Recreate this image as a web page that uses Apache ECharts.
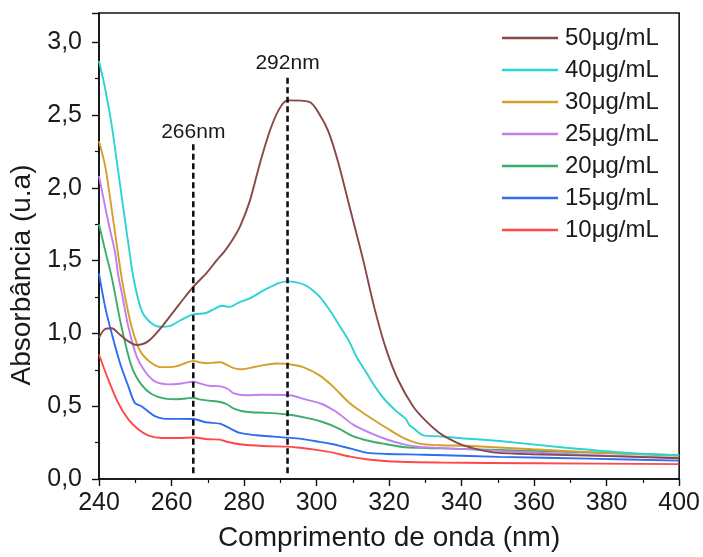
<!DOCTYPE html>
<html>
<head>
<meta charset="utf-8">
<script src="https://cdn.jsdelivr.net/npm/echarts@6/dist/echarts.min.js"></script>
<style>
html,body{margin:0;padding:0;background:#fff;}
#c{width:703px;height:557px;}
</style>
</head>
<body>
<div id="c"></div>
<script>
// Series data: [wavelength (nm), absorbance]
const s50 = [[240,0.97],[241.7,1.03],[243.5,1.035],[245.8,0.99],[248.1,0.945],[250.4,0.92],[253.5,0.945],[257.3,1.045],[260.9,1.16],[263.7,1.25],[266,1.32],[269.5,1.41],[272.4,1.50],[274.5,1.56],[277,1.65],[279,1.74],[281.6,1.91],[284.3,2.16],[287.1,2.39],[289.8,2.545],[292,2.60],[298,2.59],[300.9,2.50],[303.2,2.39],[305.9,2.18],[309.3,1.85],[312.8,1.51],[316,1.17],[319.2,0.89],[322.5,0.68],[326.6,0.50],[330.2,0.397],[333.7,0.32],[337,0.27],[340.3,0.232],[345,0.20],[349.5,0.181],[359.6,0.17],[378,0.159],[400,0.143]];
const s40 = [[240,2.87],[241.7,2.68],[243.5,2.43],[245.3,2.11],[247.2,1.77],[248.3,1.58],[249.5,1.38],[251.7,1.16],[254,1.08],[256.8,1.045],[259.5,1.05],[262.5,1.09],[266,1.13],[269.5,1.14],[272,1.17],[273.8,1.19],[276,1.182],[278.4,1.21],[281.6,1.24],[284,1.275],[286.2,1.306],[289.8,1.347],[292,1.357],[294.4,1.35],[297,1.33],[299,1.295],[300.9,1.25],[303.6,1.16],[306.4,1.05],[309.1,0.94],[311,0.84],[313.5,0.74],[315.5,0.658],[317.4,0.59],[319.2,0.534],[322,0.466],[323.8,0.43],[324.7,0.41],[325.6,0.37],[326.6,0.352],[329.5,0.30],[333.9,0.293],[340,0.28],[350.4,0.261],[368.8,0.215],[387.2,0.177],[400,0.164]];
const s30 = [[240,2.32],[241.7,2.15],[243,1.94],[244.2,1.73],[246.2,1.39],[247.6,1.20],[249,1.045],[251.2,0.886],[254,0.806],[257.3,0.768],[260.9,0.772],[263.7,0.795],[266,0.811],[268,0.80],[270,0.795],[272,0.80],[273.6,0.802],[275.5,0.78],[277.4,0.76],[279.8,0.754],[282,0.765],[284.3,0.777],[288.9,0.793],[292,0.79],[296.3,0.768],[300.9,0.71],[304.5,0.636],[309.1,0.522],[313.7,0.44],[319.2,0.352],[323.8,0.284],[328.4,0.243],[333.9,0.232],[341.3,0.228],[359.6,0.204],[378,0.181],[400,0.159]];
const s25 = [[240,2.08],[242.6,1.76],[244.4,1.56],[245.3,1.40],[246.5,1.25],[248.1,1.045],[250.4,0.84],[252.7,0.738],[255.4,0.67],[259.1,0.65],[262.8,0.656],[266,0.668],[268,0.655],[270.3,0.64],[273.5,0.636],[275.6,0.618],[277,0.59],[280.5,0.575],[285.3,0.579],[292,0.577],[297.2,0.545],[301.5,0.515],[305.5,0.46],[310,0.375],[314.6,0.318],[319.2,0.273],[323.8,0.239],[328.4,0.22],[333.9,0.214],[350.4,0.193],[375,0.165],[400,0.145]];
const s20 = [[240,1.75],[241.7,1.57],[243.5,1.386],[246.2,1.045],[249,0.772],[251.7,0.648],[254.5,0.584],[258.2,0.552],[261.8,0.548],[264,0.553],[266,0.558],[268,0.545],[270.3,0.538],[273.5,0.529],[275.5,0.51],[277.2,0.484],[280.5,0.462],[286.2,0.454],[292,0.443],[297.2,0.42],[301.5,0.393],[306,0.348],[310,0.295],[314.6,0.261],[319.2,0.239],[323.8,0.22],[328.4,0.214],[333.9,0.21],[350.4,0.2],[368.8,0.186],[400,0.164]];
const s15 = [[240,1.41],[241.7,1.18],[243.5,1.0],[245.8,0.795],[248.1,0.636],[249.9,0.522],[251.7,0.50],[253.5,0.466],[255.4,0.431],[258.2,0.413],[261.8,0.413],[266,0.412],[269.4,0.39],[273.3,0.38],[275.3,0.358],[278.6,0.318],[280.5,0.31],[283.4,0.30],[292,0.284],[295.4,0.277],[300.9,0.255],[304.5,0.239],[306.4,0.228],[310,0.205],[313.7,0.181],[319.2,0.172],[329.8,0.167],[350.4,0.152],[375,0.14],[400,0.126]];
const s10 = [[240,0.855],[242.6,0.68],[245.3,0.522],[248.1,0.409],[250.8,0.341],[253.5,0.30],[257.3,0.282],[261.8,0.282],[266,0.285],[270.1,0.273],[273.3,0.27],[275.6,0.254],[278.8,0.239],[285.3,0.227],[292,0.222],[295.4,0.215],[300,0.20],[304.5,0.181],[309,0.155],[313.7,0.136],[318,0.125],[322.9,0.118],[333.9,0.113],[360,0.108],[400,0.102]];

const seriesNames = ['50μg/mL','40μg/mL','30μg/mL','25μg/mL','20μg/mL','15μg/mL','10μg/mL'];
const seriesData = [s50, s40, s30, s25, s20, s15, s10];
const seriesColors = ['#874848','#2cd3d3','#d5a02a','#c07ff0','#3cad6c','#2e6cf0','#ff4848'];

// Annotation lines: wavelength, bottom value, top value, label
const markWl = [266, 292];
const markTop = [2.31, 2.78];
const markBottom = [0.04, 0.04];
const markLabels = ['266nm', '292nm'];

const xTicks = [240, 400, 20];
const yTicks = [0, 3.2, 0.5];

const FONT = 'Liberation Sans, Arial, sans-serif';
const chart = echarts.init(document.getElementById('c'), null, {renderer: 'canvas'});

const series = seriesData.map((d, i) => ({
  name: seriesNames[i],
  type: 'line',
  data: d,
  symbol: 'none',
  smooth: 0.3,
  lineStyle: {width: 1.9, color: seriesColors[i]},
  itemStyle: {color: seriesColors[i]},
  z: 3 + (seriesData.length - i)
}));

markWl.forEach((w, i) => {
  series.push({
    name: 'mark' + i,
    type: 'line',
    data: [
      {value: [w, markBottom[i]], label: {show: false}},
      {value: [w, markTop[i]], label: {show: true, position: 'top', distance: 0, formatter: markLabels[i],
        fontFamily: FONT, fontSize: 21, color: '#1a1a1a'}}
    ],
    symbol: 'circle', symbolSize: 0.01, showSymbol: true,
    itemStyle: {color: 'rgba(0,0,0,0)'},
    lineStyle: {width: 2.6, color: '#111', type: [6, 3.5]},
    silent: true,
    z: 10
  });
});

chart.setOption({
  animation: false,
  backgroundColor: '#fff',
  textStyle: {fontFamily: FONT},
  grid: {left: 99, right: 23, top: 13, bottom: 74, show: true, borderColor: '#111', borderWidth: 1.6, backgroundColor: 'transparent'},
  legend: {
    orient: 'vertical', left: 502, top: 26, padding: 0,
    data: seriesNames,
    icon: 'rect', itemWidth: 56, itemHeight: 2.5, itemGap: 8,
    textStyle: {fontFamily: FONT, fontSize: 24, color: '#1a1a1a', lineHeight: 22, padding: [0,0,0,2]}
  },
  xAxis: {
    type: 'value', min: xTicks[0], max: xTicks[1], interval: xTicks[2],
    name: 'Comprimento de onda (nm)', nameLocation: 'middle', nameGap: 45,
    nameTextStyle: {fontFamily: FONT, fontSize: 28, color: '#1a1a1a'},
    axisLine: {onZero: false, lineStyle: {color: '#111', width: 1.6}},
    axisTick: {show: true, inside: false, length: 7, lineStyle: {color: '#111', width: 1.4}},
    minorTick: {show: true, splitNumber: 2, length: 4, lineStyle: {color: '#111', width: 1.2}},
    axisLabel: {fontFamily: FONT, fontSize: 25, color: '#1a1a1a', margin: 12},
    splitLine: {show: false}
  },
  yAxis: {
    type: 'value', min: yTicks[0], max: yTicks[1], interval: yTicks[2],
    name: 'Absorbância (u.a)', nameLocation: 'middle', nameGap: 60, nameRotate: 90,
    nameTextStyle: {fontFamily: FONT, fontSize: 28, color: '#1a1a1a', padding: [0, 58, 0, 0]},
    axisLine: {onZero: false, lineStyle: {color: '#111', width: 1.6}},
    axisTick: {show: true, inside: false, length: 7, lineStyle: {color: '#111', width: 1.4}},
    minorTick: {show: true, splitNumber: 2, length: 4, lineStyle: {color: '#111', width: 1.2}},
    axisLabel: {fontFamily: FONT, fontSize: 25, color: '#1a1a1a', margin: 17,
      formatter: v => (Math.abs(v / 0.5 - Math.round(v / 0.5)) < 1e-6) ? v.toFixed(1).replace('.', ',') : ''},
    splitLine: {show: false}
  },
  series: series
});
</script>
</body>
</html>
